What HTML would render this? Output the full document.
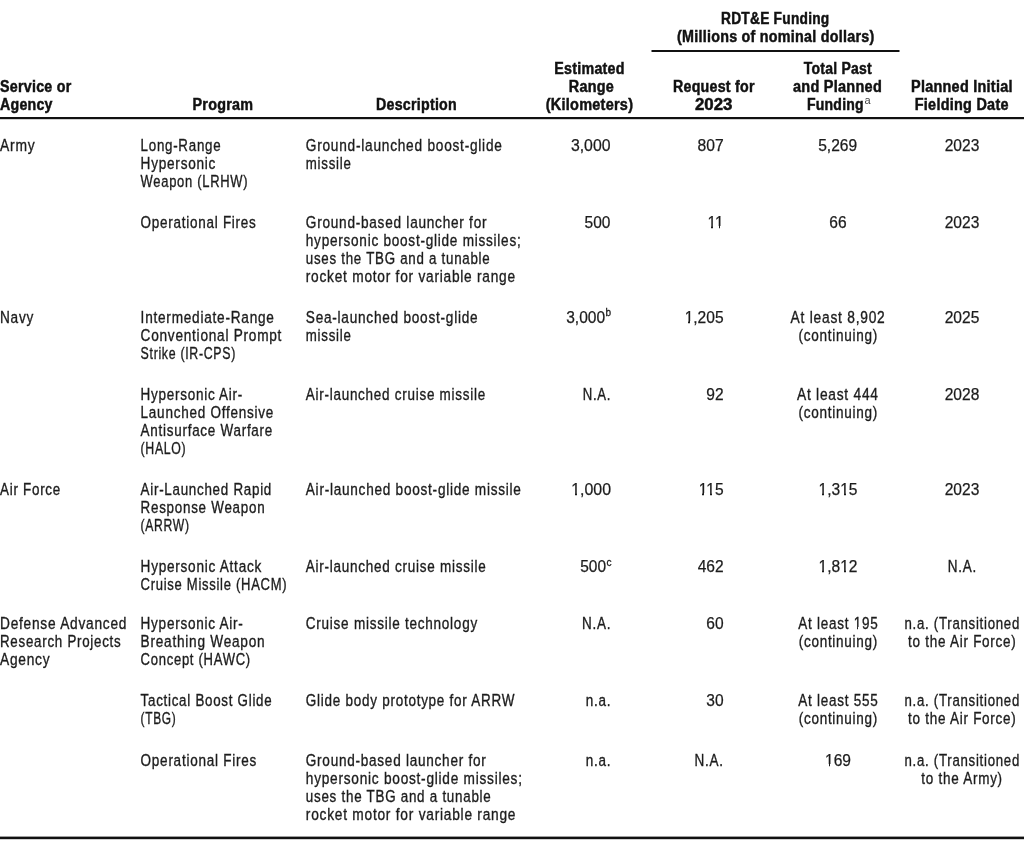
<!DOCTYPE html>
<html><head><meta charset="utf-8"><style>
html,body{margin:0;padding:0;background:#fff;}
body{width:1024px;height:848px;overflow:hidden;position:relative;}
svg{position:absolute;left:0;top:0;will-change:transform;}
text{font-family:"Liberation Sans",sans-serif;}
.r{font-size:16.3px;letter-spacing:0.9px;fill:#1c1c1c;stroke:#1c1c1c;stroke-width:0.35px;}
.b{font-size:16.8px;letter-spacing:0.3px;font-weight:bold;fill:#111;stroke:#111;stroke-width:0.5px;}
.s{font-family:"Liberation Sans",sans-serif;fill:#444;}
.r.n{letter-spacing:0;stroke-width:0.25px;}
.b.n{letter-spacing:0;}
.s2{font-size:10px;fill:#1c1c1c;stroke:#1c1c1c;stroke-width:0.3px;}
</style></head><body>
<svg width="1024" height="848" viewBox="0 0 1024 848">
<rect x="651.5" y="50" width="248" height="2" fill="#111"/>
<rect x="0" y="117" width="1024" height="2.2" fill="#111"/>
<rect x="0" y="836.6" width="1024" height="2.6" fill="#111"/>
<text lengthAdjust="spacingAndGlyphs" class="b" x="721.00" y="24.0" textLength="108.50">RDT&amp;E Funding</text>
<text lengthAdjust="spacingAndGlyphs" class="b" x="677.00" y="42.2" textLength="197.50">(Millions of nominal dollars)</text>
<text lengthAdjust="spacingAndGlyphs" class="b" x="554.25" y="73.5" textLength="70.51">Estimated</text>
<text lengthAdjust="spacingAndGlyphs" class="b" x="568.75" y="91.6" textLength="45.26">Range</text>
<text lengthAdjust="spacingAndGlyphs" class="b" x="545.75" y="109.7" textLength="87.50">(Kilometers)</text>
<text lengthAdjust="spacingAndGlyphs" class="b" x="0.00" y="91.6" textLength="71.51">Service or</text>
<text lengthAdjust="spacingAndGlyphs" class="b" x="0.00" y="109.7" textLength="52.76">Agency</text>
<text lengthAdjust="spacingAndGlyphs" class="b" x="192.50" y="109.7" textLength="60.76">Program</text>
<text lengthAdjust="spacingAndGlyphs" class="b" x="376.00" y="109.7" textLength="81.00">Description</text>
<text lengthAdjust="spacingAndGlyphs" class="b" x="673.00" y="91.6" textLength="81.76">Request for</text>
<text lengthAdjust="spacingAndGlyphs" class="b n" x="695.00" y="109.7" textLength="37.49">2023</text>
<text lengthAdjust="spacingAndGlyphs" class="b" x="803.75" y="73.5" textLength="68.24">Total Past</text>
<text lengthAdjust="spacingAndGlyphs" class="b" x="793.00" y="91.6" textLength="89.01">and Planned</text>
<text lengthAdjust="spacingAndGlyphs" class="b" x="806.90" y="109.7" textLength="57.05">Funding</text>
<text lengthAdjust="spacingAndGlyphs" class="b" x="911.00" y="91.6" textLength="101.76">Planned Initial</text>
<text lengthAdjust="spacingAndGlyphs" class="b" x="914.75" y="109.7" textLength="94.01">Fielding Date</text>
<text lengthAdjust="spacingAndGlyphs" class="r" x="0.00" y="151.0" textLength="35.37">Army</text>
<text lengthAdjust="spacingAndGlyphs" class="r" x="140.60" y="151.0" textLength="80.74">Long-Range</text>
<text lengthAdjust="spacingAndGlyphs" class="r" x="140.60" y="169.0" textLength="75.55">Hypersonic</text>
<text lengthAdjust="spacingAndGlyphs" class="r" x="140.60" y="187.0" textLength="107.71">Weapon (LRHW)</text>
<text lengthAdjust="spacingAndGlyphs" class="r" x="305.80" y="151.0" textLength="196.85">Ground-launched boost-glide</text>
<text lengthAdjust="spacingAndGlyphs" class="r" x="305.80" y="169.0" textLength="45.73">missile</text>
<text lengthAdjust="spacingAndGlyphs" class="r n" x="570.90" y="151.0" textLength="39.61">3,000</text>
<text lengthAdjust="spacingAndGlyphs" class="r n" x="697.50" y="151.0" textLength="26.11">807</text>
<text lengthAdjust="spacingAndGlyphs" class="r n" x="818.20" y="151.0" textLength="39.01">5,269</text>
<text lengthAdjust="spacingAndGlyphs" class="r n" x="944.68" y="151.0" textLength="34.63">2023</text>
<text lengthAdjust="spacingAndGlyphs" class="r" x="140.60" y="228.0" textLength="115.94">Operational Fires</text>
<text lengthAdjust="spacingAndGlyphs" class="r" x="305.80" y="228.0" textLength="181.45">Ground-based launcher for</text>
<text lengthAdjust="spacingAndGlyphs" class="r" x="305.80" y="246.0" textLength="215.65">hypersonic boost-glide missiles;</text>
<text lengthAdjust="spacingAndGlyphs" class="r" x="305.80" y="264.0" textLength="184.63">uses the TBG and a tunable</text>
<text lengthAdjust="spacingAndGlyphs" class="r" x="305.80" y="282.0" textLength="210.06">rocket motor for variable range</text>
<text lengthAdjust="spacingAndGlyphs" class="r n" x="584.60" y="228.0" textLength="25.91">500</text>
<text lengthAdjust="spacingAndGlyphs" class="r n" x="707.44" y="228.0" textLength="16.16">11</text>
<text lengthAdjust="spacingAndGlyphs" class="r n" x="829.35" y="228.0" textLength="17.31">66</text>
<text lengthAdjust="spacingAndGlyphs" class="r n" x="944.68" y="228.0" textLength="34.63">2023</text>
<text lengthAdjust="spacingAndGlyphs" class="r" x="0.00" y="323.0" textLength="34.06">Navy</text>
<text lengthAdjust="spacingAndGlyphs" class="r" x="140.60" y="323.0" textLength="134.06">Intermediate-Range</text>
<text lengthAdjust="spacingAndGlyphs" class="r" x="140.60" y="341.0" textLength="141.56">Conventional Prompt</text>
<text lengthAdjust="spacingAndGlyphs" class="r" x="140.60" y="359.0" textLength="95.39">Strike (IR-CPS)</text>
<text lengthAdjust="spacingAndGlyphs" class="r" x="305.80" y="323.0" textLength="172.56">Sea-launched boost-glide</text>
<text lengthAdjust="spacingAndGlyphs" class="r" x="305.80" y="341.0" textLength="45.73">missile</text>
<text lengthAdjust="spacingAndGlyphs" class="r n" x="566.20" y="323.0" textLength="38.91">3,000</text>
<text lengthAdjust="spacingAndGlyphs" class="r n" x="684.65" y="323.0" textLength="38.95">1,205</text>
<text lengthAdjust="spacingAndGlyphs" class="r" x="790.60" y="323.0" textLength="94.96">At least 8,902</text>
<text lengthAdjust="spacingAndGlyphs" class="r" x="798.40" y="341.0" textLength="79.65">(continuing)</text>
<text lengthAdjust="spacingAndGlyphs" class="r n" x="944.68" y="323.0" textLength="34.63">2025</text>
<text lengthAdjust="spacingAndGlyphs" class="r" x="140.60" y="399.5" textLength="102.44">Hypersonic Air-</text>
<text lengthAdjust="spacingAndGlyphs" class="r" x="140.60" y="417.5" textLength="133.45">Launched Offensive</text>
<text lengthAdjust="spacingAndGlyphs" class="r" x="140.60" y="435.5" textLength="132.45">Antisurface Warfare</text>
<text lengthAdjust="spacingAndGlyphs" class="r" x="140.60" y="453.5" textLength="45.78">(HALO)</text>
<text lengthAdjust="spacingAndGlyphs" class="r" x="305.80" y="399.5" textLength="180.15">Air-launched cruise missile</text>
<text lengthAdjust="spacingAndGlyphs" class="r" x="582.80" y="399.5" textLength="28.42">N.A.</text>
<text lengthAdjust="spacingAndGlyphs" class="r n" x="706.29" y="399.5" textLength="17.31">92</text>
<text lengthAdjust="spacingAndGlyphs" class="r" x="797.00" y="399.5" textLength="81.76">At least 444</text>
<text lengthAdjust="spacingAndGlyphs" class="r" x="798.40" y="417.5" textLength="79.65">(continuing)</text>
<text lengthAdjust="spacingAndGlyphs" class="r n" x="944.68" y="399.5" textLength="34.63">2028</text>
<text lengthAdjust="spacingAndGlyphs" class="r" x="0.00" y="495.0" textLength="60.94">Air Force</text>
<text lengthAdjust="spacingAndGlyphs" class="r" x="140.60" y="495.0" textLength="131.44">Air-Launched Rapid</text>
<text lengthAdjust="spacingAndGlyphs" class="r" x="140.60" y="513.0" textLength="124.74">Response Weapon</text>
<text lengthAdjust="spacingAndGlyphs" class="r" x="140.60" y="531.0" textLength="49.07">(ARRW)</text>
<text lengthAdjust="spacingAndGlyphs" class="r" x="305.80" y="495.0" textLength="215.85">Air-launched boost-glide missile</text>
<text lengthAdjust="spacingAndGlyphs" class="r n" x="571.20" y="495.0" textLength="39.81">1,000</text>
<text lengthAdjust="spacingAndGlyphs" class="r n" x="698.79" y="495.0" textLength="24.82">115</text>
<text lengthAdjust="spacingAndGlyphs" class="r n" x="818.53" y="495.0" textLength="38.95">1,315</text>
<text lengthAdjust="spacingAndGlyphs" class="r n" x="944.68" y="495.0" textLength="34.63">2023</text>
<text lengthAdjust="spacingAndGlyphs" class="r" x="140.60" y="571.5" textLength="121.43">Hypersonic Attack</text>
<text lengthAdjust="spacingAndGlyphs" class="r" x="140.60" y="589.5" textLength="146.72">Cruise Missile (HACM)</text>
<text lengthAdjust="spacingAndGlyphs" class="r" x="305.80" y="571.5" textLength="180.75">Air-launched cruise missile</text>
<text lengthAdjust="spacingAndGlyphs" class="r n" x="580.20" y="571.5" textLength="25.81">500</text>
<text lengthAdjust="spacingAndGlyphs" class="r n" x="697.64" y="571.5" textLength="25.97">462</text>
<text lengthAdjust="spacingAndGlyphs" class="r n" x="818.53" y="571.5" textLength="38.95">1,812</text>
<text lengthAdjust="spacingAndGlyphs" class="r" x="947.77" y="571.5" textLength="29.20">N.A.</text>
<text lengthAdjust="spacingAndGlyphs" class="r" x="0.00" y="629.0" textLength="127.16">Defense Advanced</text>
<text lengthAdjust="spacingAndGlyphs" class="r" x="0.00" y="647.0" textLength="121.44">Research Projects</text>
<text lengthAdjust="spacingAndGlyphs" class="r" x="0.00" y="665.0" textLength="50.36">Agency</text>
<text lengthAdjust="spacingAndGlyphs" class="r" x="140.60" y="629.0" textLength="102.94">Hypersonic Air-</text>
<text lengthAdjust="spacingAndGlyphs" class="r" x="140.60" y="647.0" textLength="124.76">Breathing Weapon</text>
<text lengthAdjust="spacingAndGlyphs" class="r" x="140.60" y="665.0" textLength="110.31">Concept (HAWC)</text>
<text lengthAdjust="spacingAndGlyphs" class="r" x="305.80" y="629.0" textLength="172.15">Cruise missile technology</text>
<text lengthAdjust="spacingAndGlyphs" class="r" x="582.04" y="629.0" textLength="29.20">N.A.</text>
<text lengthAdjust="spacingAndGlyphs" class="r n" x="706.29" y="629.0" textLength="17.31">60</text>
<text lengthAdjust="spacingAndGlyphs" class="r" x="798.30" y="629.0" textLength="80.14">At least 195</text>
<text lengthAdjust="spacingAndGlyphs" class="r" x="798.68" y="647.0" textLength="79.38">(continuing)</text>
<text lengthAdjust="spacingAndGlyphs" class="r" x="904.40" y="629.0" textLength="115.63">n.a. (Transitioned</text>
<text lengthAdjust="spacingAndGlyphs" class="r" x="908.00" y="647.0" textLength="108.54">to the Air Force)</text>
<text lengthAdjust="spacingAndGlyphs" class="r" x="140.60" y="706.0" textLength="131.83">Tactical Boost Glide</text>
<text lengthAdjust="spacingAndGlyphs" class="r" x="140.60" y="724.0" textLength="35.65">(TBG)</text>
<text lengthAdjust="spacingAndGlyphs" class="r" x="305.80" y="706.0" textLength="209.44">Glide body prototype for ARRW</text>
<text lengthAdjust="spacingAndGlyphs" class="r" x="585.78" y="706.0" textLength="25.47">n.a.</text>
<text lengthAdjust="spacingAndGlyphs" class="r n" x="706.29" y="706.0" textLength="17.31">30</text>
<text lengthAdjust="spacingAndGlyphs" class="r" x="798.30" y="706.0" textLength="80.14">At least 555</text>
<text lengthAdjust="spacingAndGlyphs" class="r" x="798.68" y="724.0" textLength="79.38">(continuing)</text>
<text lengthAdjust="spacingAndGlyphs" class="r" x="904.40" y="706.0" textLength="115.63">n.a. (Transitioned</text>
<text lengthAdjust="spacingAndGlyphs" class="r" x="908.00" y="724.0" textLength="108.54">to the Air Force)</text>
<text lengthAdjust="spacingAndGlyphs" class="r" x="140.60" y="765.5" textLength="116.35">Operational Fires</text>
<text lengthAdjust="spacingAndGlyphs" class="r" x="305.80" y="765.5" textLength="180.74">Ground-based launcher for</text>
<text lengthAdjust="spacingAndGlyphs" class="r" x="305.80" y="783.5" textLength="216.96">hypersonic boost-glide missiles;</text>
<text lengthAdjust="spacingAndGlyphs" class="r" x="305.80" y="801.5" textLength="185.73">uses the TBG and a tunable</text>
<text lengthAdjust="spacingAndGlyphs" class="r" x="305.80" y="819.5" textLength="210.46">rocket motor for variable range</text>
<text lengthAdjust="spacingAndGlyphs" class="r" x="585.78" y="765.5" textLength="25.47">n.a.</text>
<text lengthAdjust="spacingAndGlyphs" class="r" x="694.54" y="765.5" textLength="29.20">N.A.</text>
<text lengthAdjust="spacingAndGlyphs" class="r n" x="825.02" y="765.5" textLength="25.97">169</text>
<text lengthAdjust="spacingAndGlyphs" class="r" x="904.40" y="765.5" textLength="115.63">n.a. (Transitioned</text>
<text lengthAdjust="spacingAndGlyphs" class="r" x="921.26" y="783.5" textLength="81.61">to the Army)</text>
<text class="s" x="864.6" y="103.9" font-size="11">a</text>
<text class="s2" x="605.6" y="316.3">b</text>
<text class="s2" x="606.6" y="566">c</text>
<rect x="708" y="226" width="3" height="3" fill="#fff" shape-rendering="crispEdges"/>
<rect x="713" y="226" width="3" height="3" fill="#fff" shape-rendering="crispEdges"/>
<rect x="715" y="226" width="4" height="3" fill="#fff" shape-rendering="crispEdges"/>
<rect x="720" y="226" width="4" height="3" fill="#fff" shape-rendering="crispEdges"/>
<rect x="685" y="321" width="3" height="3" fill="#fff" shape-rendering="crispEdges"/>
<rect x="690" y="321" width="4" height="3" fill="#fff" shape-rendering="crispEdges"/>
<rect x="571" y="493" width="4" height="3" fill="#fff" shape-rendering="crispEdges"/>
<rect x="577" y="493" width="3" height="3" fill="#fff" shape-rendering="crispEdges"/>
<rect x="699" y="493" width="3" height="3" fill="#fff" shape-rendering="crispEdges"/>
<rect x="704" y="493" width="4" height="3" fill="#fff" shape-rendering="crispEdges"/>
<rect x="706" y="493" width="4" height="3" fill="#fff" shape-rendering="crispEdges"/>
<rect x="712" y="493" width="3" height="3" fill="#fff" shape-rendering="crispEdges"/>
<rect x="819" y="493" width="3" height="3" fill="#fff" shape-rendering="crispEdges"/>
<rect x="824" y="493" width="3" height="3" fill="#fff" shape-rendering="crispEdges"/>
<rect x="840" y="493" width="4" height="3" fill="#fff" shape-rendering="crispEdges"/>
<rect x="846" y="493" width="3" height="3" fill="#fff" shape-rendering="crispEdges"/>
<rect x="819" y="570" width="3" height="3" fill="#fff" shape-rendering="crispEdges"/>
<rect x="824" y="570" width="3" height="3" fill="#fff" shape-rendering="crispEdges"/>
<rect x="840" y="570" width="4" height="3" fill="#fff" shape-rendering="crispEdges"/>
<rect x="846" y="570" width="3" height="3" fill="#fff" shape-rendering="crispEdges"/>
<rect x="854" y="627" width="3" height="3" fill="#fff" shape-rendering="crispEdges"/>
<rect x="858" y="627" width="4" height="3" fill="#fff" shape-rendering="crispEdges"/>
<rect x="825" y="764" width="4" height="3" fill="#fff" shape-rendering="crispEdges"/>
<rect x="830" y="764" width="4" height="3" fill="#fff" shape-rendering="crispEdges"/>
</svg>
</body></html>
